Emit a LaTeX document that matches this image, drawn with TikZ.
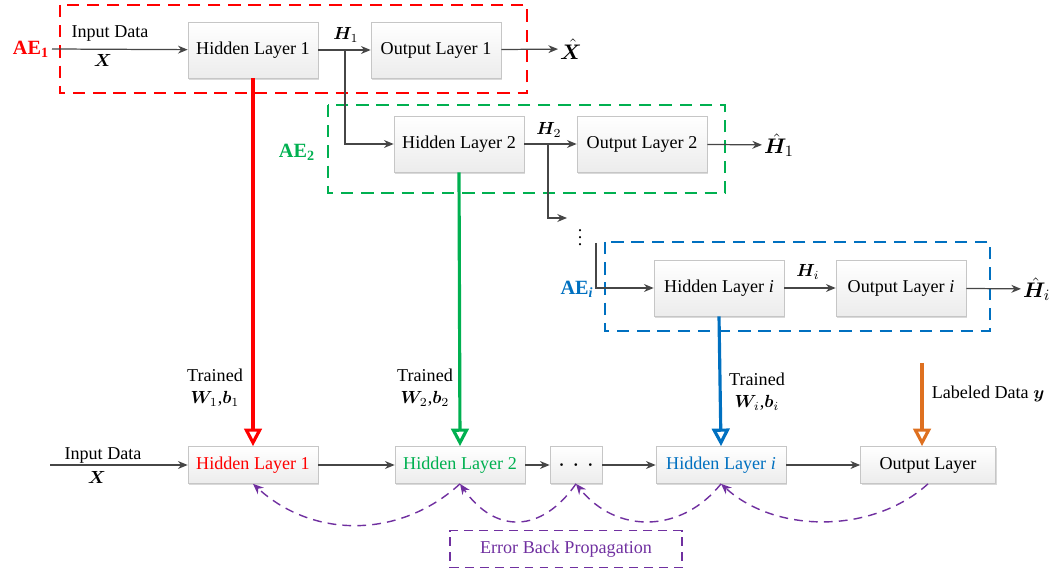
\documentclass[tikz,border=0pt]{standalone}
\usepackage{fontspec}
\setmainfont{Liberation Serif}
\usepackage{bm}
\usetikzlibrary{arrows.meta,shadows}

\definecolor{aered}{RGB}{255,0,0}
\definecolor{aegreen}{RGB}{0,176,80}
\definecolor{aeblue}{RGB}{0,112,192}
\definecolor{aeorange}{RGB}{222,112,32}
\definecolor{bppurple}{RGB}{112,48,160}
\definecolor{linegray}{RGB}{70,70,70}

\tikzset{
  every node/.style={font=\fontsize{10.3}{12.4}\selectfont},
  layer/.style={draw=gray!45, top color=white, bottom color=gray!15,
    minimum width=2.6cm, minimum height=1.12cm, inner sep=1pt,
    drop shadow={shadow xshift=0.6pt, shadow yshift=-0.9pt, opacity=0.3}},
  flat/.style={layer, minimum height=0.74cm},
  flow/.style={draw=linegray, line width=0.7pt, -{Stealth[length=5.5pt,width=4.5pt]}},
  aebox/.style={line width=1.2pt, dash pattern=on 7pt off 4.5pt},
  aename/.style={font=\fontsize{11.5}{13}\selectfont\bfseries},
  hatname/.style={anchor=west, inner sep=1pt, font=\fontsize{12.5}{14}\selectfont},
  trained/.style={line width=1.8pt, -{Triangle[open,length=10pt,width=10pt]}},
  backprop/.style={draw=bppurple, thick, dash pattern=on 5pt off 3.5pt,
    -{Stealth[length=6pt,width=5pt]}},
}

\begin{document}
\begin{tikzpicture}[x=0.02cm, y=-0.02cm]
\useasboundingbox (0,0) rectangle (1053,573);

% autoencoder frames
\draw[aebox, aered] (60,5) rectangle (527,93);
\draw[aebox, aegreen] (328,105) rectangle (725,193);
\draw[aebox, aeblue] (605,242) rectangle (990,331);

\node[aename, aered] (ae1) at (31,49) {AE\textsubscript{1}};
\node[aename, aegreen] (ae2) at (297,152) {AE\textsubscript{2}};
\node[aename, aeblue] (aei) at (577,289) {AE\textsubscript{\textit{i}}};

% first autoencoder
\coordinate (in1) at (52,49);
\node[layer] (hidA) at (253,50) {Hidden Layer 1};
\node[layer] (outA) at (436,50) {Output Layer 1};
\node[hatname] (xhat) at (558,49) {$\hat{\bm X}$};
\node (inA) at (110,34) {Input Data};
\node (xA) at (103,60) {$\bm X$};
\node (hA) at (346,35) {$\bm H_1$};
\draw[flow] (in1) -- (hidA);
\draw[flow] (hidA) -- (outA);
\draw[flow] (outA) -- (xhat);

% second autoencoder
\coordinate (br1) at (345,50);
\node[layer] (hidB) at (459,144) {Hidden Layer 2};
\node[layer] (outB) at (642,144) {Output Layer 2};
\node[hatname] (hhatB) at (762,145) {$\hat{\bm H}_1$};
\node (hB) at (549,130) {$\bm H_2$};
\draw[flow] (br1) |- (hidB);
\draw[flow] (hidB) -- (outB);
\draw[flow] (outB) -- (hhatB);

% further autoencoders
\coordinate (br2) at (548,144);
\coordinate (more) at (567,218);
\node (vdots) at (580,232) {$\vdots$};
\draw[flow] (br2) |- (more);

% i-th autoencoder
\coordinate (brC) at (596,243);
\node[layer] (hidC) at (719,288) {Hidden Layer \textit{i}};
\node[layer] (outC) at (901,288) {Output Layer \textit{i}};
\node[hatname] (hhatC) at (1021,289) {$\hat{\bm H}_i$};
\node (hC) at (808,272) {$\bm H_i$};
\draw[flow] (brC) |- (hidC);
\draw[flow] (hidC) -- (outC);
\draw[flow] (outC) -- (hhatC);

% fine-tuned network
\coordinate (in2) at (50,465);
\node[flat, text=aered] (bhA) at (253,465) {Hidden Layer 1};
\node[flat, text=aegreen] (bhB) at (460,465) {Hidden Layer 2};
\node[flat, minimum width=1.04cm] (bdots) at (576,465) {$\bm\cdot\;\bm\cdot\;\bm\cdot$};
\node[flat, text=aeblue] (bhC) at (721,465) {Hidden Layer \textit{i}};
\node[flat, minimum width=2.7cm] (bout) at (928,465) {Output Layer};
\node (inB) at (103,455) {Input Data};
\node (xB) at (97,477) {$\bm X$};
\draw[flow] (in2) -- (bhA);
\draw[flow] (bhA) -- (bhB);
\draw[flow] (bhB) -- (bdots);
\draw[flow] (bdots) -- (bhC);
\draw[flow] (bhC) -- (bout);

% trained weights passed down
\draw[trained, aered] (hidA.south) -- (bhA.north);
\draw[trained, aegreen] (hidB.south) -- (bhB.north);
\draw[trained, aeblue] (hidC.south) -- (bhC.north);
\coordinate (lab) at (922,363);
\draw[trained, aeorange] (lab) -- (lab |- bout.north);
\node[align=center] (wA) at (215,388) {Trained\\$\bm W_1$,$\bm b_1$};
\node[align=center] (wB) at (425,388) {Trained\\$\bm W_2$,$\bm b_2$};
\node[align=center] (wC) at (757,392) {Trained\\$\bm W_i$,$\bm b_i$};
\node (ylab) at (988,394) {Labeled Data $\bm y$};

% error back propagation
\draw[backprop] (bout.south) .. controls +(-55,50) and +(55,50) .. (bhC.south);
\draw[backprop] (bhC.south) .. controls +(-40,50) and +(40,50) .. (bdots.south);
\draw[backprop] (bdots.south) .. controls +(-35,50) and +(35,50) .. (bhB.south);
\draw[backprop] (bhB.south) .. controls +(-60,55) and +(60,55) .. (bhA.south);
\node[draw=bppurple, thick, dash pattern=on 5pt off 3.5pt, text=bppurple,
  minimum width=4.64cm, minimum height=0.74cm] (ebp) at (566,549) {Error Back Propagation};

\end{tikzpicture}
\end{document}
